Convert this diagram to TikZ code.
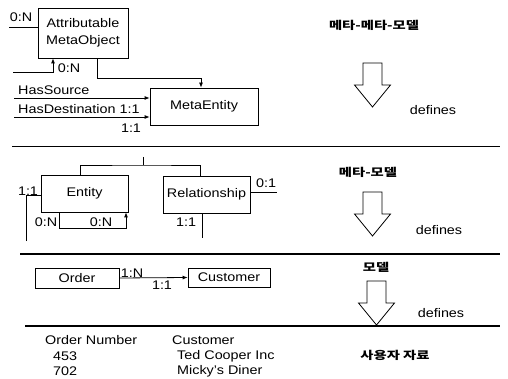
\documentclass[tikz,border=0pt]{standalone}
\usepackage{fontspec}
\setmainfont{Liberation Sans}[FakeStretch=1.15]
\newfontfamily\kofont{Noto Sans CJK KR}[FakeStretch=1.3]
\usetikzlibrary{arrows.meta,positioning,calc}
\tikzstyle{entbox} = [draw, rectangle, inner sep=0pt, line width=0.8pt]
\tikzstyle{lbl} = [inner sep=0pt]
\tikzstyle{layer} = [inner sep=0pt, font=\kofont\bfseries\fontsize{11}{13}\selectfont]
\tikzstyle{sep} = [line width=1.3pt]
\tikzstyle{conn} = [line width=0.8pt]
\tikzset{defarrow/.pic={%
  \draw[line width=0.8pt] (-9.5,0) -- (-9.5,22) -- (-18,22) -- (0,44) -- (18,22) -- (9.5,22) -- (9.5,0) -- cycle;
}}

\begin{document}
\begin{tikzpicture}[x=1pt, y=-1pt, >={Latex[length=5pt,width=4pt]},
    font=\fontsize{12.5}{14}\selectfont]
  \useasboundingbox (0,0) rectangle (508,379);

  % meta-meta-model
  \node[entbox, minimum width=90pt, minimum height=50pt, align=center] (amo) at (83,33) {Attributable\\[3pt]MetaObject};
  \node[entbox, minimum width=108pt, minimum height=37pt] (me) at (204,106.5) {MetaEntity};
  \coordinate (amoIn) at (9,27);
  \coordinate (selfIn) at (13,72);
  \coordinate (hsIn) at (14,98);
  \coordinate (hdIn) at (14,117);
  \draw[conn] (amoIn) -- (amoIn -| amo.west);
  \draw[conn,->] (selfIn) -| ([xshift=-30pt]amo.south);
  \draw[conn,->] ([xshift=14pt]amo.south) -- ++(0,20) -| ([xshift=-3pt]me.north);
  \draw[conn,->] (hsIn) -- (hsIn -| me.west);
  \draw[conn,->] (hdIn) -- (hdIn -| me.west);
  \node[lbl] (l1) at (21,17) {0:N};
  \node[lbl] (l2) at (69,68) {0:N};
  \node[lbl, anchor=base west] (hs) at (18,95) {HasSource};
  \node[lbl, anchor=base west] (hd) at (18,114) {HasDestination 1:1};
  \node[lbl] (l3) at (131,128) {1:1};
  \coordinate (s1a) at (12,146.5);
  \coordinate (s1b) at (500,146.5);
  \draw[sep] (s1a) -- (s1b);

  % meta-model
  \node[entbox, minimum width=87pt, minimum height=37pt] (ent) at (84.5,193.5) {Entity};
  \node[entbox, minimum width=87pt, minimum height=37pt] (rel) at (206.5,194.5) {Relationship};
  \coordinate (gen) at (143,157);
  \coordinate (entIn) at (26,241);
  \coordinate (relOut) at (277,192);
  \coordinate (relDn) at (202,238);
  \draw[conn] (gen) -- ++(0,8) coordinate (genJ);
  \draw[conn] ([xshift=-4.5pt]ent.north) |- (genJ) -| ([xshift=-6.5pt]rel.north);
  \draw[conn] (entIn) |- ([yshift=-1.5pt]ent.west);
  \draw[conn,->] ([xshift=-25.5pt]ent.south) -- ++(0,16) -| ([xshift=41.5pt]ent.south);
  \draw[conn] (relOut -| rel.east) -- (relOut);
  \draw[conn] (relDn |- rel.south) -- (relDn);
  \node[lbl] (l4) at (28,191) {1:1};
  \node[lbl] (l5) at (46,222) {0:N};
  \node[lbl] (l6) at (101,222) {0:N};
  \node[lbl] (l7) at (266,183) {0:1};
  \node[lbl] (l8) at (186,222) {1:1};
  \coordinate (s2a) at (20,254);
  \coordinate (s2b) at (500,254);
  \draw[sep] (s2a) -- (s2b);

  % model
  \node[entbox, minimum width=84pt, minimum height=20pt] (ord) at (77,278) {Order};
  \node[entbox, minimum width=82pt, minimum height=19pt] (cus) at (229,277.5) {Customer};
  \draw[conn,->] (ord.east) -- (cus.west);
  \node[lbl] (l9) at (132,273) {1:N};
  \node[lbl] (l10) at (162,285) {1:1};
  \coordinate (s3a) at (25,326);
  \coordinate (s3b) at (500,326);
  \draw[sep] (s3a) -- (s3b);

  % user data
  \node[lbl, anchor=west] (c1) at (45,340) {Order Number};
  \node[lbl, anchor=west] (c2) at (172,340) {Customer};
  \node[lbl, anchor=west] (r1a) at (53,356) {453};
  \node[lbl, anchor=west] (r1b) at (177,356) {Ted Cooper Inc};
  \node[lbl, anchor=west] (r2a) at (53,371) {702};
  \node[lbl, anchor=west] (r2b) at (177,371) {Micky's Diner};

  % layers
  \node[layer] (k1) at (374,25) {메타-메타-모델};
  \node[layer] (k2) at (368,172) {메타-모델};
  \node[layer] (k3) at (376,267) {모델};
  \node[layer] (k4) at (395,355) {사용자 자료};
  \pic at (372.5,63) {defarrow};
  \pic at (372.5,192) {defarrow};
  \pic at (376.5,281) {defarrow};
  \node[lbl] (d1) at (433,110) {defines};
  \node[lbl] (d2) at (439,230) {defines};
  \node[lbl] (d3) at (441,313) {defines};
\end{tikzpicture}
\end{document}
